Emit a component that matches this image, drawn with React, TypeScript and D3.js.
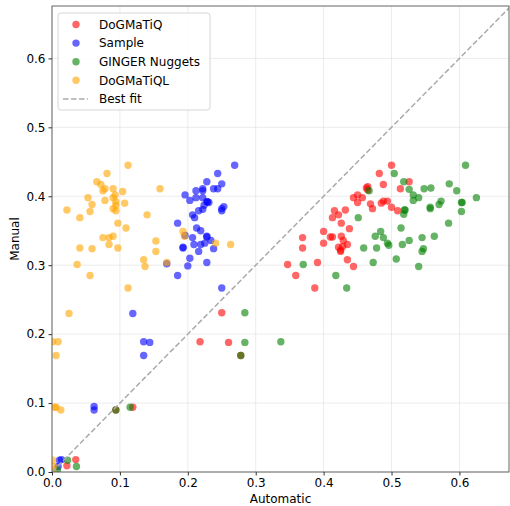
import { useEffect, useRef } from "react";
import * as d3 from "d3";

type Pt = [number, number];

// [automatic, manual]
const dogmatiq: Pt[] = [
  [0.5, 0.445], [0.482, 0.433], [0.488, 0.417], [0.513, 0.411], [0.463, 0.412],
  [0.465, 0.409], [0.465, 0.414], [0.444, 0.398], [0.45, 0.402], [0.457, 0.398],
  [0.45, 0.391], [0.469, 0.389], [0.472, 0.382], [0.485, 0.39], [0.488, 0.393],
  [0.494, 0.393], [0.5, 0.384], [0.509, 0.379], [0.526, 0.421], [0.416, 0.379],
  [0.422, 0.373], [0.413, 0.369], [0.432, 0.38], [0.426, 0.361], [0.438, 0.353],
  [0.4, 0.349], [0.41, 0.341], [0.413, 0.341], [0.426, 0.342], [0.429, 0.336],
  [0.435, 0.33], [0.422, 0.326], [0.425, 0.322], [0.428, 0.327], [0.425, 0.32],
  [0.4, 0.332], [0.369, 0.34], [0.369, 0.325], [0.435, 0.308], [0.444, 0.298],
  [0.391, 0.304], [0.387, 0.267], [0.347, 0.301], [0.359, 0.285], [0.25, 0.231],
  [0.218, 0.189], [0.26, 0.188], [0.278, 0.169], [0.119, 0.094], [0.094, 0.09],
  [0.035, 0.018], [0.022, 0.009],
];

const sample: Pt[] = [
  [0.269, 0.445], [0.244, 0.433], [0.228, 0.421], [0.25, 0.418], [0.238, 0.411],
  [0.244, 0.411], [0.222, 0.411], [0.222, 0.408], [0.212, 0.408], [0.196, 0.402],
  [0.203, 0.394], [0.212, 0.398], [0.222, 0.398], [0.228, 0.392], [0.231, 0.391],
  [0.229, 0.392], [0.224, 0.387], [0.253, 0.385], [0.25, 0.382], [0.25, 0.379],
  [0.222, 0.381], [0.216, 0.379], [0.207, 0.373], [0.21, 0.369], [0.185, 0.361],
  [0.213, 0.354], [0.219, 0.35], [0.196, 0.343], [0.207, 0.34], [0.228, 0.342],
  [0.228, 0.341], [0.234, 0.336], [0.193, 0.325], [0.193, 0.326], [0.209, 0.33],
  [0.219, 0.33], [0.225, 0.332], [0.238, 0.324], [0.216, 0.32], [0.203, 0.31],
  [0.2, 0.299], [0.228, 0.304], [0.169, 0.302], [0.185, 0.285], [0.25, 0.267],
  [0.119, 0.23], [0.135, 0.189], [0.144, 0.188], [0.135, 0.169], [0.062, 0.095],
  [0.062, 0.09], [0.014, 0.018], [0.011, 0.017], [0.009, 0.008],
];

const ginger: Pt[] = [
  [0.609, 0.445], [0.504, 0.433], [0.518, 0.421], [0.526, 0.41], [0.548, 0.411],
  [0.558, 0.412], [0.585, 0.418], [0.596, 0.408], [0.625, 0.398], [0.532, 0.402],
  [0.532, 0.394], [0.54, 0.398], [0.573, 0.393], [0.57, 0.388], [0.557, 0.384],
  [0.557, 0.382], [0.603, 0.391], [0.604, 0.391], [0.603, 0.378], [0.52, 0.38],
  [0.518, 0.374], [0.519, 0.38], [0.584, 0.361], [0.514, 0.354], [0.545, 0.34],
  [0.563, 0.342], [0.526, 0.336], [0.516, 0.33], [0.484, 0.349], [0.476, 0.342],
  [0.488, 0.34], [0.494, 0.332], [0.496, 0.329], [0.547, 0.324], [0.545, 0.32],
  [0.507, 0.309], [0.54, 0.298], [0.467, 0.408], [0.451, 0.369], [0.459, 0.325],
  [0.478, 0.325], [0.473, 0.304], [0.37, 0.301], [0.418, 0.285], [0.434, 0.267],
  [0.284, 0.231], [0.284, 0.188], [0.337, 0.189], [0.278, 0.169], [0.115, 0.094],
  [0.094, 0.09], [0.023, 0.017], [0.036, 0.008], [0.008, 0.003],
];

const dogmatiql: Pt[] = [
  [0.112, 0.445], [0.081, 0.433], [0.066, 0.421], [0.072, 0.417], [0.078, 0.411],
  [0.075, 0.408], [0.09, 0.411], [0.104, 0.407], [0.093, 0.402], [0.053, 0.398],
  [0.078, 0.394], [0.09, 0.398], [0.094, 0.392], [0.107, 0.39], [0.094, 0.387],
  [0.059, 0.388], [0.09, 0.382], [0.094, 0.379], [0.022, 0.38], [0.056, 0.378],
  [0.041, 0.369], [0.14, 0.373], [0.159, 0.411], [0.097, 0.361], [0.109, 0.354],
  [0.075, 0.34], [0.084, 0.34], [0.09, 0.342], [0.084, 0.33], [0.097, 0.325],
  [0.041, 0.325], [0.059, 0.324], [0.153, 0.335], [0.153, 0.32], [0.135, 0.308],
  [0.137, 0.298], [0.037, 0.301], [0.056, 0.285], [0.112, 0.267], [0.169, 0.304],
  [0.193, 0.349], [0.195, 0.342], [0.241, 0.332], [0.263, 0.33], [0.025, 0.23],
  [0.009, 0.189], [0.001, 0.189], [0.006, 0.169], [0.006, 0.094], [0.004, 0.094],
  [0.013, 0.09], [0.001, 0.017], [0.002, 0.008], [0.001, 0.003],
];

const series = [
  { name: "DoGMaTiQ", color: "red", data: dogmatiq },
  { name: "Sample", color: "blue", data: sample },
  { name: "GINGER Nuggets", color: "green", data: ginger },
  { name: "DoGMaTiQL", color: "orange", data: dogmatiql },
];

const ticks = [0, 0.1, 0.2, 0.3, 0.4, 0.5, 0.6];
const xMax = 0.673;
const yMax = 0.676;

export default function App() {
  const svgRef = useRef<SVGSVGElement>(null);

  useEffect(() => {
    if (!svgRef.current) return;
    const width = 510;
    const height = 506;
    const margin = { top: 6, right: 1, bottom: 34, left: 52 };
    const innerW = width - margin.left - margin.right;
    const innerH = height - margin.top - margin.bottom;
    const font = "DejaVu Sans, sans-serif";

    const svg = d3.select(svgRef.current);
    svg.selectAll("*").remove();

    svg.append("defs")
      .append("clipPath")
      .attr("id", "plot-clip")
      .append("rect")
      .attr("width", innerW)
      .attr("height", innerH);

    const g = svg.append("g").attr("transform", `translate(${margin.left},${margin.top})`);

    const x = d3.scaleLinear().domain([0, xMax]).range([0, innerW]);
    const y = d3.scaleLinear().domain([0, yMax]).range([innerH, 0]);

    // Grid
    ticks.forEach((t) => {
      g.append("line")
        .attr("x1", x(t)).attr("x2", x(t))
        .attr("y1", 0).attr("y2", innerH)
        .attr("stroke", "#b0b0b0").attr("stroke-opacity", 0.3).attr("stroke-width", 0.8);
      g.append("line")
        .attr("x1", 0).attr("x2", innerW)
        .attr("y1", y(t)).attr("y2", y(t))
        .attr("stroke", "#b0b0b0").attr("stroke-opacity", 0.3).attr("stroke-width", 0.8);
    });

    const plot = g.append("g").attr("clip-path", "url(#plot-clip)");

    series.forEach((s) => {
      plot.append("g")
        .selectAll("circle")
        .data(s.data)
        .join("circle")
        .attr("cx", (d) => x(d[0]))
        .attr("cy", (d) => y(d[1]))
        .attr("r", 3.7)
        .attr("fill", s.color)
        .attr("fill-opacity", 0.6);
    });

    // Best fit line
    const m = Math.max(xMax, yMax);
    plot.append("line")
      .attr("x1", x(0)).attr("y1", y(0))
      .attr("x2", x(m)).attr("y2", y(m))
      .attr("stroke", "#aaaaaa")
      .attr("stroke-width", 1.5)
      .attr("stroke-dasharray", "5.5,2.5");

    // Spines
    g.append("rect")
      .attr("width", innerW).attr("height", innerH)
      .attr("fill", "none").attr("stroke", "#555").attr("stroke-width", 0.9);

    // Axes
    const xAxis = g.append("g")
      .attr("transform", `translate(0,${innerH})`)
      .call(d3.axisBottom(x).tickValues(ticks).tickSize(3.5).tickPadding(3).tickFormat(d3.format(".1f")));
    const yAxis = g.append("g")
      .call(d3.axisLeft(y).tickValues(ticks).tickSize(3.5).tickPadding(3).tickFormat(d3.format(".1f")));
    [xAxis, yAxis].forEach((a) => {
      a.select(".domain").remove();
      a.selectAll("line").attr("stroke", "#333");
      a.selectAll("text").attr("font-family", font).attr("font-size", 12).attr("fill", "#000");
    });

    svg.append("text")
      .attr("x", margin.left + innerW / 2)
      .attr("y", 503)
      .attr("text-anchor", "middle")
      .attr("font-family", font)
      .attr("font-size", 12)
      .text("Automatic");

    svg.append("text")
      .attr("transform", `translate(19,${margin.top + innerH / 2}) rotate(-90)`)
      .attr("text-anchor", "middle")
      .attr("font-family", font)
      .attr("font-size", 12)
      .text("Manual");

    // Legend
    const lg = g.append("g").attr("transform", "translate(6,7)");
    lg.append("rect")
      .attr("width", 152).attr("height", 97).attr("rx", 3)
      .attr("fill", "white").attr("fill-opacity", 0.8)
      .attr("stroke", "#cccccc").attr("stroke-width", 0.8);
    series.forEach((s, i) => {
      const cy = 11.5 + i * 18.6;
      lg.append("circle")
        .attr("cx", 18).attr("cy", cy).attr("r", 3.7)
        .attr("fill", s.color).attr("fill-opacity", 0.6);
      lg.append("text")
        .attr("x", 41).attr("y", cy + 4.3)
        .attr("font-family", font).attr("font-size", 12)
        .text(s.name);
    });
    const fy = 11.5 + 4 * 18.6;
    lg.append("line")
      .attr("x1", 5).attr("x2", 30).attr("y1", fy).attr("y2", fy)
      .attr("stroke", "#aaaaaa").attr("stroke-width", 1.5).attr("stroke-dasharray", "5.5,2.5");
    lg.append("text")
      .attr("x", 41).attr("y", fy + 4.3)
      .attr("font-family", font).attr("font-size", 12)
      .text("Best fit");
  }, []);

  return (
    <div style={{ position: "absolute", left: 0, top: 0 }}>
      <svg ref={svgRef} width={510} height={506} style={{ display: "block" }} />
    </div>
  );
}
